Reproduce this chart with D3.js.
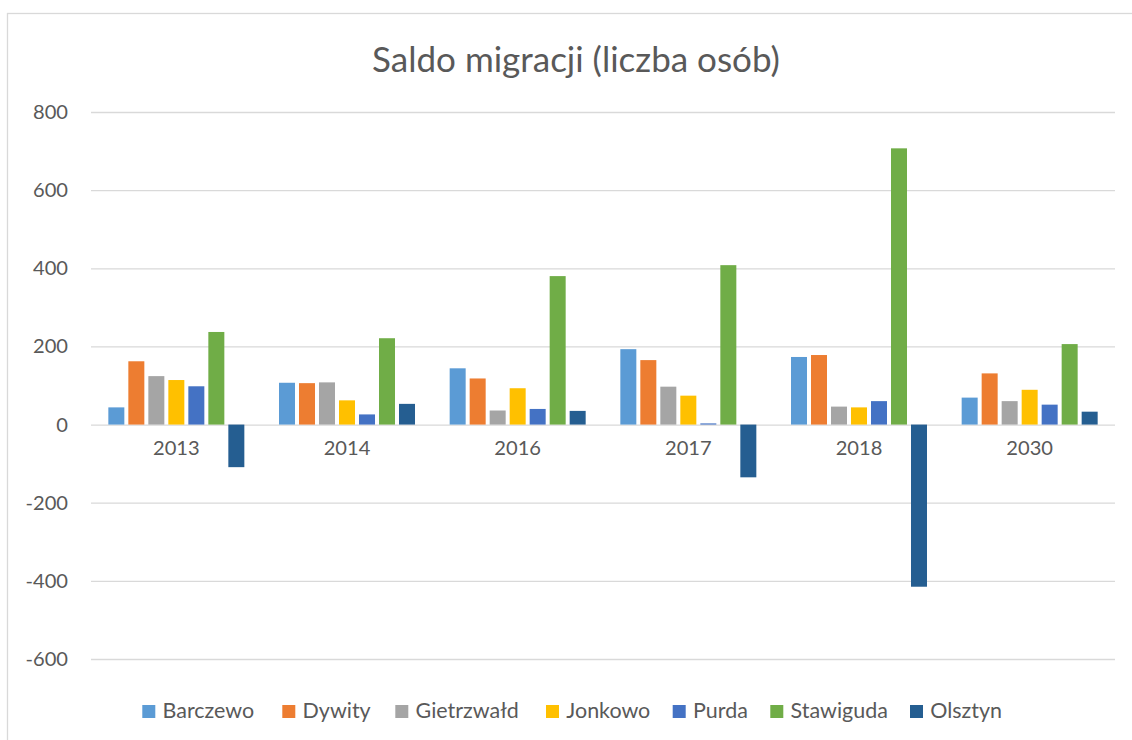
<!DOCTYPE html>
<html>
<head>
<meta charset="utf-8">
<script src="https://cdn.jsdelivr.net/npm/d3@7"></script>
<style>
  html, body { margin: 0; padding: 0; background: #fff; }
  svg { display: block; }
  text { font-family: Lato, "Open Sans", sans-serif; fill: #595959; }
</style>
</head>
<body>
<svg id="chart" width="1132" height="740"></svg>
<script>
const title = "Saldo migracji (liczba osób)";
const categories = ["2013", "2014", "2016", "2017", "2018", "2030"];
const seriesNames = ["Barczewo", "Dywity", "Gietrzwałd", "Jonkowo", "Purda", "Stawiguda", "Olsztyn"];
const seriesColors = ["#5B9BD5", "#ED7D31", "#A5A5A5", "#FFC000", "#4472C4", "#70AD47", "#255E91"];
const barczewo   = [44, 107, 144, 193, 173, 69];
const dywity     = [162, 106, 118, 165, 178, 131];
const gietrzwald = [124, 108, 36, 97, 46, 60];
const jonkowo    = [114, 62, 93, 74, 44, 89];
const purda      = [98, 26, 40, 3, 60, 51];
const stawiguda  = [237, 221, 380, 408, 707, 206];
const olsztyn    = [-109, 53, 35, -135, -415, 33];
const seriesValues = [barczewo, dywity, gietrzwald, jonkowo, purda, stawiguda, olsztyn];
const yTicks = [-600, -400, -200, 0, 200, 400, 600, 800];

const svg = d3.select("#chart");
const plot = { left: 91, right: 1115, top: 112, bottom: 659 };

// frame
svg.append("rect")
  .attr("x", 7.5).attr("y", 13.5)
  .attr("width", 1200).attr("height", 800)
  .attr("fill", "#fff").attr("stroke", "#D9D9D9").attr("stroke-width", 1.3);

// helper: size text to a target width
function fitSize(str, targetWidth) {
  const t = svg.append("text").attr("font-size", 100).text(str);
  const w = t.node().getComputedTextLength();
  t.remove();
  return 100 * targetWidth / w;
}

const tickSize = fitSize("800", 35);
const catSize = fitSize("2013", 46.7);
const legSize = fitSize("Barczewo", 91.6);
const titleSize = fitSize(title, 408);

const y = d3.scaleLinear().domain([-600, 800]).range([plot.bottom, plot.top]);
const x0 = d3.scaleBand().domain(categories).range([plot.left, plot.right])
  .paddingInner(0.2031).paddingOuter(0.1016);
const x1 = d3.scaleBand().domain(seriesNames).range([0, x0.bandwidth()])
  .paddingInner(0.2).paddingOuter(0);
const color = d3.scaleOrdinal().domain(seriesNames).range(seriesColors);

// title
svg.append("text")
  .attr("x", 576).attr("y", 72)
  .attr("text-anchor", "middle")
  .attr("font-size", titleSize)
  .text(title);

// gridlines
const grid = svg.append("g")
  .attr("transform", `translate(${plot.left},0)`)
  .call(d3.axisLeft(y).tickValues(yTicks).tickSize(-(plot.right - plot.left)).tickFormat(""));
grid.select(".domain").remove();
grid.selectAll("line").attr("stroke", "#D9D9D9").attr("stroke-width", 1.3);

// y axis labels
const yAxis = svg.append("g")
  .attr("transform", `translate(${plot.left},0)`)
  .call(d3.axisLeft(y).tickValues(yTicks).tickSize(0).tickPadding(23).tickFormat(d => String(d)));
yAxis.select(".domain").remove();
yAxis.selectAll("text")
  .attr("font-size", tickSize)
  .style("font-family", "Lato, 'Open Sans', sans-serif")
  .attr("fill", "#595959");

// bars
const data = [];
categories.forEach((c, i) => {
  seriesNames.forEach((s, j) => data.push({ cat: c, series: s, value: seriesValues[j][i] }));
});
svg.append("g").selectAll("rect").data(data).join("rect")
  .attr("x", d => x0(d.cat) + x1(d.series))
  .attr("width", x1.bandwidth())
  .attr("y", d => y(Math.max(0, d.value)))
  .attr("height", d => Math.abs(y(d.value) - y(0)))
  .attr("fill", d => color(d.series));

// x axis labels
const xAxis = svg.append("g")
  .attr("transform", `translate(0,${y(0)})`)
  .call(d3.axisBottom(x0).tickSize(0).tickPadding(16));
xAxis.select(".domain").remove();
xAxis.selectAll("text")
  .attr("font-size", catSize)
  .style("font-family", "Lato, 'Open Sans', sans-serif")
  .attr("fill", "#595959");

// legend (item x positions are layout)
const legendX = [142.3, 282.3, 395.3, 546, 672.7, 770.3, 910];
const leg = svg.append("g");
seriesNames.forEach((s, i) => {
  const g = leg.append("g").attr("transform", `translate(${legendX[i]},717.7)`);
  g.append("rect").attr("width", 13).attr("height", 13).attr("y", -12.7).attr("fill", color(s));
  g.append("text").attr("x", 20.3).attr("font-size", legSize).text(s);
});
</script>
</body>
</html>
